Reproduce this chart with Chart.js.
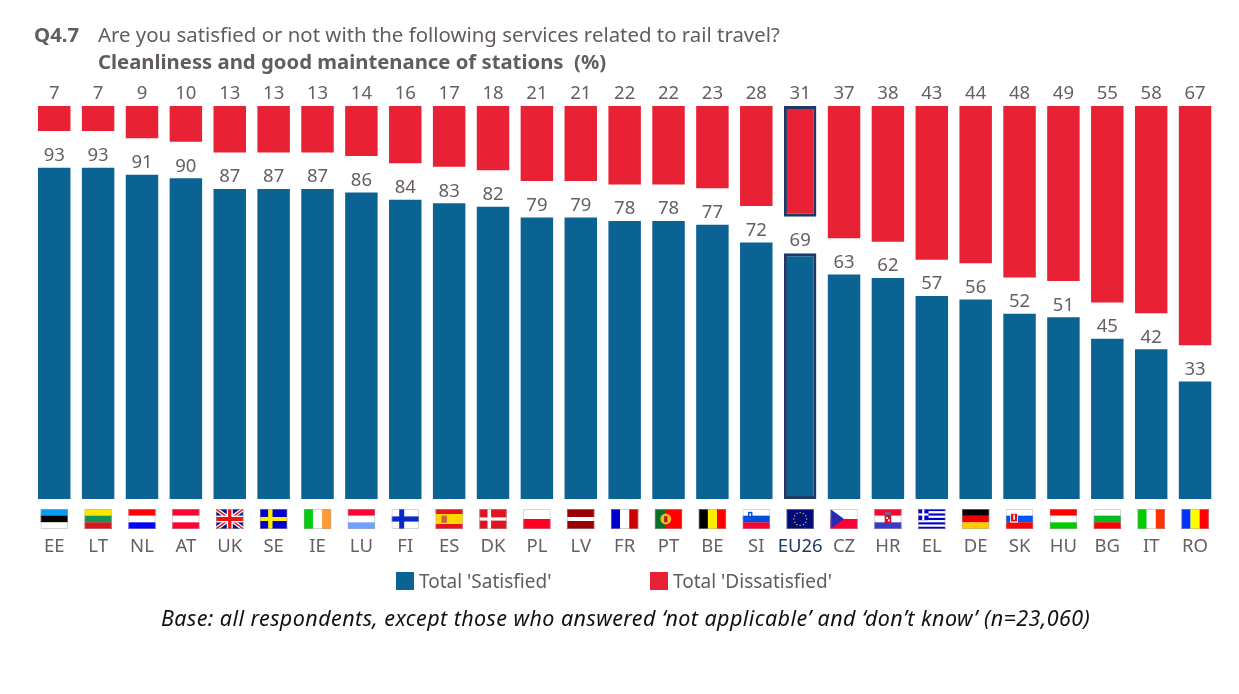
<!DOCTYPE html>
<html>
<head>
<meta charset="utf-8">
<title>Q4.7</title>
<script src="https://cdn.jsdelivr.net/npm/chart.js@4/dist/chart.umd.min.js"></script>
<style>
    body { margin: 0; background: #fff; font-family: "Noto Sans", sans-serif; color: #625b60; }
    #wrap { position: relative; width: 1239px; height: 694px; overflow: hidden; }
    canvas { position: absolute; left: 0; top: 0; }
    .txt { position: absolute; white-space: pre; font-size: 20.4px; line-height: 28px; }
    .legendItem { position: absolute; top: 570px; height: 22px; line-height: 22px; font-size: 19px; white-space: pre; }
    .legendItem i { position: absolute; left: 0; top: 2px; width: 18px; height: 18px; }
    .legendItem span { position: absolute; left: 23px; top: 0; }
</style>
</head>
<body>
<div id="wrap">
    <canvas id="chartCanvas" width="1239" height="694"></canvas>
    <div class="txt" style="left:34px;top:20px;font-weight:700">Q4.7</div>
    <div class="txt" style="left:98px;top:20px">Are you satisfied or not with the following services related to rail travel?</div>
    <div class="txt" style="left:98px;top:47px;font-weight:700;font-size:20.3px">Cleanliness and good maintenance of stations  (%)</div>
    <div class="txt" style="left:161px;top:604px;font-style:italic;color:#111;font-size:21.5px;letter-spacing:0.43px">Base: all respondents, except those who answered ‘not applicable’ and ‘don’t know’ (n=23,060)</div>
    <div id="legend"></div>
</div>
<script>
const categories = ["EE", "LT", "NL", "AT", "UK", "SE", "IE", "LU", "FI", "ES", "DK", "PL", "LV", "FR", "PT", "BE", "SI", "EU26", "CZ", "HR", "EL", "DE", "SK", "HU", "BG", "IT", "RO"];
const satisfied = [93, 93, 91, 90, 87, 87, 87, 86, 84, 83, 82, 79, 79, 78, 78, 77, 72, 69, 63, 62, 57, 56, 52, 51, 45, 42, 33];
const dissatisfied = [7, 7, 9, 10, 13, 13, 13, 14, 16, 17, 18, 21, 21, 22, 22, 23, 28, 31, 37, 38, 43, 44, 48, 49, 55, 58, 67];

const COLOR = {
    BLUE: "#0b6394",
    RED: "#e82134",
    NAVY: "#1f3864",
    TEXT: "#665e63"
};
const HIGHLIGHT = "EU26";
const FONT = '"Noto Sans", sans-serif';

// stripes: h = top to bottom, v = left to right
const flagStripes = {
    EE: ["h", "#0a9bf5", "#000", "#fff"],
    LT: ["h", "#ffe800", "#14925a", "#d9141a"],
    NL: ["h", "#ff0000", "#fff", "#0000ff"],
    AT: ["h", "#ff0033", "#fff", "#ff0033"],
    UK: ["h", "#00148c"],
    SE: ["h", "#0000c8"],
    IE: ["v", "#00cc11", "#fff", "#ff9933"],
    LU: ["h", "#ff0033", "#fff", "#70a0ff"],
    FI: ["h", "#fff"],
    ES: ["h", "#e8141c", "#ffd800", "#ffd800", "#e8141c"],
    DK: ["h", "#e0141e"],
    PL: ["h", "#fff", "#ff0022"],
    LV: ["h", "#9b0000", "#9b0000", "#fff", "#9b0000", "#9b0000"],
    FR: ["v", "#0000cc", "#fff", "#cc0000"],
    PT: ["h", "#ff0000"],
    BE: ["v", "#000", "#ffee00", "#ff0000"],
    SI: ["h", "#fff", "#0050e0", "#ff0033"],
    EU26: ["h", "#000a78"],
    CZ: ["h", "#fff", "#ff0033"],
    HR: ["h", "#ff0033", "#fff", "#3838cc"],
    EL: ["h", "#0000cc", "#fff", "#0000cc", "#fff", "#0000cc", "#fff", "#0000cc", "#fff", "#0000cc"],
    DE: ["h", "#000", "#ee0000", "#ffcc00"],
    SK: ["h", "#fff", "#0055ff", "#ff0000"],
    HU: ["h", "#ff0000", "#fff", "#00cc00"],
    BG: ["h", "#fff", "#00bb22", "#ff0000"],
    IT: ["v", "#00cc00", "#fff", "#ff3300"],
    RO: ["v", "#0033ff", "#ffff00", "#ff0000"]
};

function flagRect(ctx, color, x, y, w, h) {
    ctx.fillStyle = color;
    ctx.fillRect(x, y, w, h);
}

// extra detail on top of the stripes, w and h are the flag size
const flagDetails = {
    UK(ctx, w, h) {
        ctx.lineWidth = 4;
        ctx.strokeStyle = "#fff";
        ctx.beginPath();
        ctx.moveTo(0, 0); ctx.lineTo(w, h);
        ctx.moveTo(w, 0); ctx.lineTo(0, h);
        ctx.stroke();
        ctx.lineWidth = 1.5;
        ctx.strokeStyle = "#e8141c";
        ctx.stroke();
        flagRect(ctx, "#fff", w * 0.39, 0, w * 0.22, h);
        flagRect(ctx, "#fff", 0, h * 0.33, w, h * 0.34);
        flagRect(ctx, "#f01010", w * 0.44, 0, w * 0.12, h);
        flagRect(ctx, "#f01010", 0, h * 0.4, w, h * 0.2);
    },
    SE(ctx, w, h) {
        flagRect(ctx, "#ffee00", w * 0.3, 0, w * 0.16, h);
        flagRect(ctx, "#ffee00", 0, h * 0.4, w, h * 0.2);
    },
    FI(ctx, w, h) {
        flagRect(ctx, "#0a28c8", w * 0.28, 0, w * 0.18, h);
        flagRect(ctx, "#0a28c8", 0, h * 0.37, w, h * 0.26);
    },
    DK(ctx, w, h) {
        flagRect(ctx, "#fff", w * 0.3, 0, w * 0.13, h);
        flagRect(ctx, "#fff", 0, h * 0.42, w, h * 0.16);
    },
    ES(ctx, w, h) {
        flagRect(ctx, "#c8643c", w * 0.22, h * 0.33, w * 0.2, h * 0.36);
    },
    PT(ctx, w, h) {
        flagRect(ctx, "#0a6e28", 0, 0, w * 0.4, h);
        ctx.fillStyle = "#e8c020";
        ctx.beginPath();
        ctx.arc(w * 0.4, h * 0.5, h * 0.27, 0, Math.PI * 2);
        ctx.fill();
        flagRect(ctx, "#c81414", w * 0.34, h * 0.36, w * 0.12, h * 0.3);
    },
    SI(ctx, w, h) {
        flagRect(ctx, "#0050e0", w * 0.2, h * 0.14, w * 0.16, h * 0.3);
        flagRect(ctx, "#fff", w * 0.25, h * 0.22, w * 0.06, h * 0.12);
    },
    EU26(ctx, w, h) {
        ctx.fillStyle = "#e8d020";
        for (let i = 0; i < 12; i++) {
            const a = i * Math.PI / 6;
            ctx.fillRect(w / 2 + Math.cos(a) * h * 0.32 - 0.6, h / 2 + Math.sin(a) * h * 0.32 - 0.6, 1.2, 1.2);
        }
    },
    CZ(ctx, w, h) {
        ctx.fillStyle = "#2828b4";
        ctx.beginPath();
        ctx.moveTo(0, 0); ctx.lineTo(w * 0.5, h / 2); ctx.lineTo(0, h);
        ctx.fill();
    },
    HR(ctx, w, h) {
        flagRect(ctx, "#d01428", w * 0.38, h * 0.3, w * 0.24, h * 0.42);
        flagRect(ctx, "#fff", w * 0.44, h * 0.4, w * 0.06, h * 0.1);
        flagRect(ctx, "#fff", w * 0.5, h * 0.52, w * 0.06, h * 0.1);
        flagRect(ctx, "#5a6ea0", w * 0.38, h * 0.16, w * 0.24, h * 0.12);
    },
    EL(ctx, w, h) {
        flagRect(ctx, "#0000cc", 0, 0, w * 0.38, h * 0.56);
        flagRect(ctx, "#fff", w * 0.15, 0, w * 0.08, h * 0.56);
        flagRect(ctx, "#fff", 0, h * 0.22, w * 0.38, h * 0.11);
    },
    SK(ctx, w, h) {
        flagRect(ctx, "#fff", w * 0.16, h * 0.2, w * 0.28, h * 0.48);
        flagRect(ctx, "#e01010", w * 0.19, h * 0.24, w * 0.22, h * 0.38);
        flagRect(ctx, "#fff", w * 0.27, h * 0.28, w * 0.06, h * 0.26);
    }
};

// the flag row under the bars, placed from the category scale
const flagPlugin = {
    id: "flagRow",
    afterDraw(chart) {
        const { ctx, scales } = chart;
        const w = 27.5, h = 20, top = 509;
        categories.forEach((code, i) => {
            const spec = flagStripes[code];
            const stripes = spec.slice(1);
            const left = scales.x.getPixelForValue(i) - w / 2;
            ctx.save();
            ctx.translate(left, top);
            ctx.beginPath();
            ctx.rect(0, 0, w, h);
            ctx.clip();
            stripes.forEach((color, s) => {
                if (spec[0] === "h") {
                    flagRect(ctx, color, 0, s * h / stripes.length, w, h / stripes.length + 0.2);
                } else {
                    flagRect(ctx, color, s * w / stripes.length, 0, w / stripes.length + 0.2, h);
                }
            });
            if (flagDetails[code]) {
                flagDetails[code](ctx, w, h);
            }
            ctx.strokeStyle = "rgba(170,170,170,0.5)";
            ctx.lineWidth = 1;
            ctx.strokeRect(0.5, 0.5, w - 1, h - 1);
            ctx.restore();
        });
    }
};

// value labels: red ones in a row above the bars, blue ones on top of each bar
const valueLabelPlugin = {
    id: "valueLabels",
    afterDatasetsDraw(chart) {
        const { ctx, scales } = chart;
        ctx.save();
        ctx.font = "18.5px " + FONT;
        ctx.textAlign = "center";
        ctx.textBaseline = "middle";
        categories.forEach((code, i) => {
            const x = scales.x.getPixelForValue(i);
            ctx.fillStyle = COLOR.TEXT;
            ctx.fillText(dissatisfied[i], x, scales.yRed.getPixelForValue(0) - 12);
            ctx.fillText(satisfied[i], x, scales.y.getPixelForValue(satisfied[i]) - 12);
        });
        ctx.restore();
    }
};

function makeDataset(label, data, color, axis) {
    return {
        label: label,
        data: data,
        yAxisID: axis,
        backgroundColor: color,
        borderColor: ctx => categories[ctx.dataIndex] === HIGHLIGHT ? COLOR.NAVY : color,
        borderWidth: ctx => categories[ctx.dataIndex] === HIGHLIGHT ? 3 : 0,
        borderSkipped: false,
        grouped: false,
        barPercentage: 0.74,
        categoryPercentage: 1
    };
}

const chart = new Chart(document.getElementById("chartCanvas").getContext("2d"), {
    type: "bar",
    data: {
        labels: categories,
        datasets: [
            makeDataset("Total 'Satisfied'", satisfied, COLOR.BLUE, "y"),
            makeDataset("Total 'Dissatisfied'", dissatisfied, COLOR.RED, "yRed")
        ]
    },
    options: {
        responsive: false,
        animation: false,
        layout: { padding: { left: 32.3, right: 22, top: 106, bottom: 0 } },
        plugins: {
            legend: { display: false },
            tooltip: { enabled: false }
        },
        scales: {
            x: {
                // tick padding would also eat the side margins, so the gap comes from invisible ticks
                grid: { color: "transparent", drawOnChartArea: false, tickLength: 37 },
                border: { display: false },
                ticks: {
                    autoSkip: false,
                    maxRotation: 0,
                    padding: 0,
                    font: { family: FONT, size: 18.5 },
                    color: ctx => categories[ctx.index] === HIGHLIGHT ? COLOR.NAVY : COLOR.TEXT
                },
                afterFit(scale) {
                    scale.height = 195;
                }
            },
            y: { display: false, min: 0, max: 110.3 },
            yRed: { display: false, min: 0, max: 110, reverse: true }
        }
    },
    plugins: [flagPlugin, valueLabelPlugin]
});

// html legend, built from the datasets
const legendX = [396, 650];
chart.data.datasets.forEach((dataset, i) => {
    const item = document.createElement("div");
    item.className = "legendItem";
    item.style.left = legendX[i] + "px";
    const box = document.createElement("i");
    box.style.background = dataset.backgroundColor;
    const text = document.createElement("span");
    text.textContent = dataset.label;
    item.appendChild(box);
    item.appendChild(text);
    document.getElementById("legend").appendChild(item);
});
</script>
</body>
</html>
